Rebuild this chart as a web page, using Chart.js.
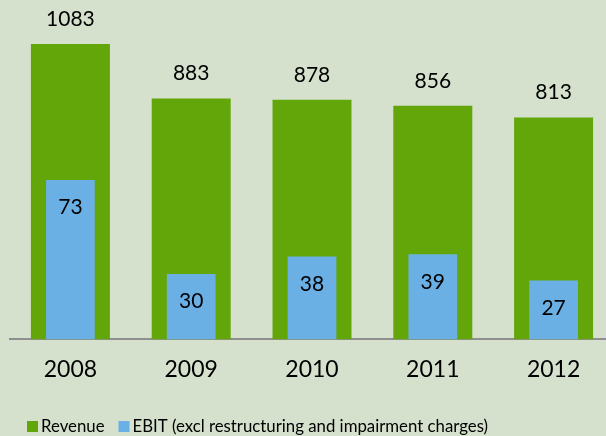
<!DOCTYPE html>
<html>
<head>
<meta charset="utf-8">
<script src="https://cdn.jsdelivr.net/npm/chart.js@4.4.0/dist/chart.umd.min.js"></script>
<style>
  html, body { margin: 0; padding: 0; background: #d5e1cd; overflow: hidden; }
  #wrap { width: 624px; height: 436px; }
</style>
</head>
<body>
<div id="wrap"><canvas id="chart" width="624" height="436"></canvas></div>
<script>
const years = ['2008', '2009', '2010', '2011', '2012'];
const revenue = [1083, 883, 878, 856, 813];
const ebit = [73, 30, 38, 39, 27];

const GREEN = '#63a60a';
const BLUE = '#6ab0e4';
const FONT = 'Lato, "Open Sans", sans-serif';

// value labels: above the revenue bars, inside the top of the EBIT bars
const valueLabels = {
  id: 'valueLabels',
  afterDatasetsDraw(chart) {
    const ctx = chart.ctx;
    ctx.save();
    ctx.font = '21px ' + FONT;
    ctx.fillStyle = '#000';
    ctx.textAlign = 'center';
    ctx.textBaseline = 'middle';
    chart.data.datasets.forEach((ds, i) => {
      const meta = chart.getDatasetMeta(i);
      meta.data.forEach((bar, j) => {
        const dy = ds.labelInside ? 27.5 : -25;
        ctx.fillText(String(ds.data[j]), bar.x, bar.y + dy);
      });
    });
    ctx.restore();
  }
};

// legend drawn by hand so the box/text spacing matches
const bottomLegend = {
  id: 'bottomLegend',
  afterDraw(chart) {
    const ctx = chart.ctx;
    ctx.save();
    ctx.font = '16.8px ' + FONT;
    ctx.textBaseline = 'middle';
    ctx.textAlign = 'left';
    let x = 27;
    const y = 426.5;
    chart.data.datasets
      .slice()
      .sort((a, b) => a.legendIndex - b.legendIndex)
      .forEach(ds => {
        ctx.fillStyle = ds.backgroundColor;
        ctx.fillRect(x, y - 5.5, 11, 11);
        x += 14;
        ctx.fillStyle = '#000';
        ctx.fillText(ds.label, x, y);
        x += ctx.measureText(ds.label).width + 14;
      });
    ctx.restore();
  }
};

new Chart(document.getElementById('chart'), {
  type: 'bar',
  data: {
    labels: years,
    datasets: [
      {
        label: 'EBIT (excl restructuring and impairment charges)',
        data: ebit,
        backgroundColor: BLUE,
        yAxisID: 'y2',
        barPercentage: 0.403,
        categoryPercentage: 1,
        labelInside: true,
        legendIndex: 1,
        order: 0
      },
      {
        label: 'Revenue',
        data: revenue,
        backgroundColor: GREEN,
        yAxisID: 'y',
        barPercentage: 0.654,
        categoryPercentage: 1,
        legendIndex: 0,
        order: 1
      }
    ]
  },
  options: {
    responsive: false,
    animation: false,
    layout: { padding: { left: 10, right: 10, top: 12, bottom: 37 } },
    datasets: { bar: { grouped: false } },
    scales: {
      x: {
        grid: { display: false, drawTicks: false },
        border: { display: true, color: '#8f8f8f', width: 2 },
        ticks: { color: '#000', font: { family: FONT, size: 23 }, padding: 16 }
      },
      y: { display: false, min: 0, max: 1200 },
      y2: { display: false, min: 0, max: 150 }
    },
    plugins: {
      legend: { display: false },
      tooltip: { enabled: false }
    }
  },
  plugins: [valueLabels, bottomLegend]
});
</script>
</body>
</html>
